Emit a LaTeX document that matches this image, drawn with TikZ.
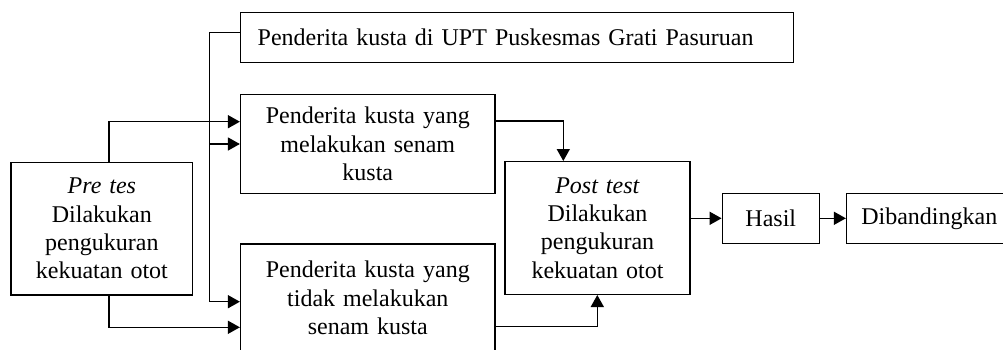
\documentclass[tikz,border=0pt]{standalone}
\usepackage{fontspec}
\setmainfont{Liberation Serif}
\usetikzlibrary{arrows.meta}

\tikzset{
  kotak/.style={draw, rectangle, line width=0.7pt, inner sep=0pt, align=center,
    font=\fontsize{12}{14.2}\selectfont},
  arr/.style={line width=0.75pt, -{Triangle[length=6pt,width=6.5pt]}}
}

\begin{document}
\begin{tikzpicture}[x=0.5pt, y=-0.5pt]
    \useasboundingbox (0,0) rectangle (1003,349);

    \node[kotak, text width=259.3pt, inner xsep=8.5pt, minimum height=25pt, align=left] (populasi) at (517,37.3) {Penderita kusta di UPT Puskesmas Grati Pasuruan};
    \node[kotak, text width=127.2pt, minimum height=49.3pt] (senam) at (367.8,144) {Penderita kusta yang\\melakukan senam\\kusta};
    \node[kotak, text width=127.2pt, minimum height=54pt] (tidak) at (367.8,298) {Penderita kusta yang\\tidak melakukan\\senam kusta};
    \node[kotak, text width=90.9pt, minimum height=66.4pt] (pre) at (101.85,228.65) {\textit{Pre tes}\\Dilakukan\\pengukuran\\kekuatan otot};
    \node[kotak, text width=92.5pt, minimum height=66.3pt] (post) at (597.5,228) {\textit{Post test}\\Dilakukan\\pengukuran\\kekuatan otot};
    \node[kotak, text width=48.5pt, minimum height=25pt] (hasil) at (770.8,218.3) {Hasil};
    \node[kotak, text width=82.7pt, minimum height=25pt] (banding) at (929.3,218.3) {Dibandingkan};

    \coordinate (jt) at (209.7,32.3);
    \coordinate (jb) at (209.7,301.7);
    \coordinate (ja) at (109,121.7);
    \coordinate (jp) at (109,327.3);
    \coordinate (jc) at (563.3,121);
    \coordinate (jd) at (597.3,326.7);

    \draw[arr] (populasi.west |- jt) -- (jt) -- (jb) -- (tidak.west |- jb);
    \draw[arr] (jt |- senam.west) -- (senam.west);
    \draw[arr] (pre.north -| ja) -- (ja) -- (senam.west |- ja);
    \draw[arr] (pre.south -| jp) -- (jp) -- (tidak.west |- jp);
    \draw[arr] (senam.east |- jc) -- (jc) -- (post.north -| jc);
    \draw[arr] (tidak.east |- jd) -- (jd) -- (post.south -| jd);
    \draw[arr] (post.east |- hasil.west) -- (hasil.west);
    \draw[arr] (hasil) -- (banding);
  \end{tikzpicture}
\end{document}
